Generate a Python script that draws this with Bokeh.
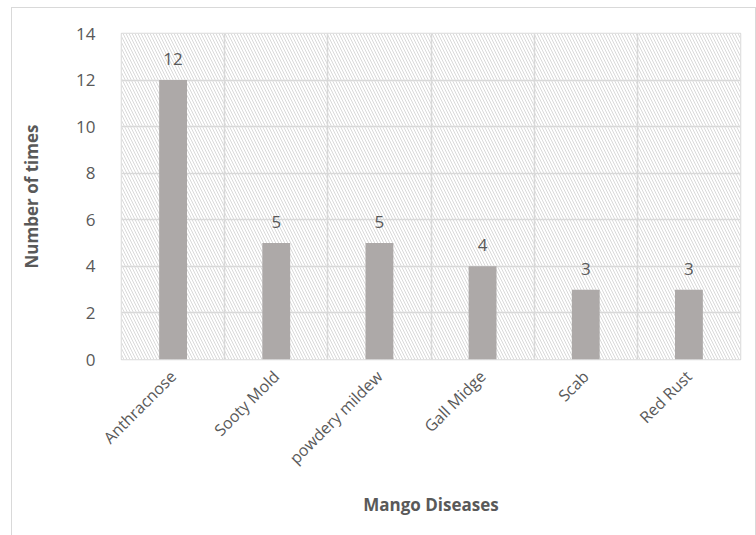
import math
from bokeh.plotting import figure
from bokeh.models import FixedTicker, BoxAnnotation, ColumnDataSource
from bokeh.core.properties import value
from bokeh.embed import file_html
from bokeh.resources import INLINE

categories = ["Anthracnose", "Sooty Mold", "powdery mildew", "Gall Midge", "Scab", "Red Rust"]
counts = [12, 5, 5, 4, 3, 3]
y_ticks = [0, 2, 4, 6, 8, 10, 12, 14]

FONT = "Open Sans"
TEXT = "#595959"
GRID = "#d9d9d9"

positions = list(range(len(categories)))
src = ColumnDataSource(data=dict(x=positions, y=counts, label=[str(c) for c in counts]))

p = figure(width=745, height=528, output_backend="svg", toolbar_location=None,
           x_range=(-0.5, len(categories) - 0.5), y_range=(0, 14),
           min_border_left=109, min_border_top=25, min_border_right=17, min_border_bottom=177)
p.styles = {"border": "1px solid #d9d9d9", "border-bottom": "none",
            "margin-left": "11px", "margin-top": "7px"}

bg = BoxAnnotation(fill_color="white", fill_alpha=1.0, line_color=None,
                   hatch_pattern="\\", hatch_color="#d9d9d9", hatch_scale=6, hatch_weight=1,
                   level="image")
p.add_layout(bg)

p.vbar(x="x", top="y", width=0.27, source=src, fill_color="#ada9a8", line_color=None)
p.text(x="x", y="y", text="label", source=src, text_align="center", text_baseline="bottom",
       y_offset=-15, text_font=value(FONT), text_font_size="17px", text_color=TEXT)

p.xaxis.ticker = FixedTicker(ticks=positions)
p.xaxis.major_label_overrides = {i: c for i, c in enumerate(categories)}
p.xaxis.major_label_orientation = math.pi / 4
p.yaxis.ticker = FixedTicker(ticks=y_ticks)

p.xgrid.ticker = FixedTicker(ticks=[i - 0.5 for i in range(len(categories) + 1)])
p.xgrid.grid_line_color = GRID
p.xgrid.grid_line_width = 1.5
p.ygrid.grid_line_color = GRID
p.ygrid.grid_line_width = 1.5

for ax in (p.xaxis[0], p.yaxis[0]):
    ax.axis_line_color = None
    ax.major_tick_line_color = None
    ax.minor_tick_line_color = None
    ax.major_label_text_font = FONT
    ax.major_label_text_color = TEXT
    ax.axis_label_text_font = FONT
    ax.axis_label_text_color = TEXT
    ax.axis_label_text_font_style = "bold"
    ax.axis_label_text_font_size = "17px"

p.xaxis.major_label_text_font_size = "16px"
p.yaxis.major_label_text_font_size = "17px"
p.xaxis.major_label_standoff = 8
p.yaxis.major_label_standoff = 20
p.xaxis.axis_label = "Mango Diseases"
p.yaxis.axis_label = "Number of times"
p.xaxis.axis_label_standoff = 14
p.yaxis.axis_label_standoff = 30

p.outline_line_color = GRID
p.outline_line_width = 1.5
p.background_fill_color = "white"
p.border_fill_color = "white"

open("out.html", "w").write(file_html(p, INLINE))
